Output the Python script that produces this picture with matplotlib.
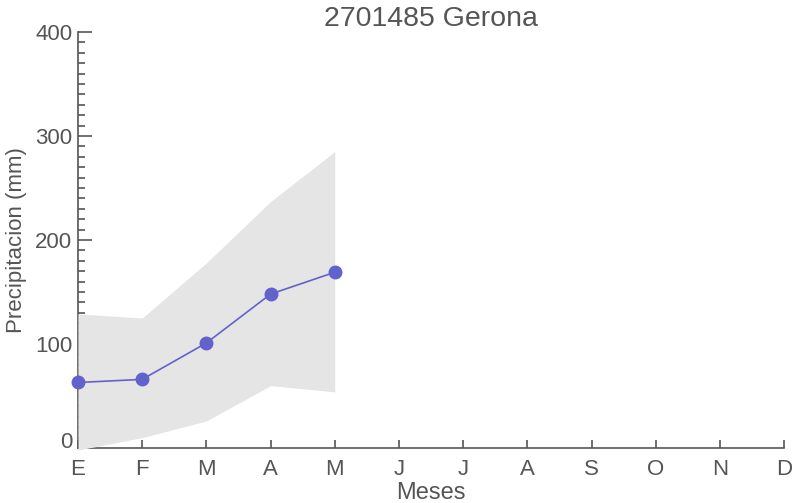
import matplotlib
matplotlib.use("Agg")
import matplotlib.pyplot as plt
from matplotlib.ticker import MultipleLocator

meses = ["E", "F", "M", "A", "M", "J", "J", "A", "S", "O", "N", "D"]
media = [63, 66, 101, 148, 169]
banda_sup = [129, 125, 178, 237, 285]
banda_inf = [-2, 10, 26, 60, 54]

texto = "#555555"
plt.rcParams["font.family"] = ["Liberation Sans", "DejaVu Sans"]

fig = plt.figure(figsize=(7.92, 5.03), dpi=100)
ax = fig.add_axes([0.0985, 0.1093, 0.8915, 0.8271])

x = list(range(len(media)))
ax.fill_between(x, banda_inf, banda_sup, color="#e5e5e5", lw=0, zorder=3, clip_on=False)
ax.plot(x, media, "-o", color="#6262cc", lw=1.2, markersize=9, zorder=4, clip_on=False)

ax.set_xlim(0, 11)
ax.set_ylim(0, 400)
ax.set_xticks(range(len(meses)))
ax.set_xticklabels(meses)
ax.yaxis.set_major_locator(MultipleLocator(100))
ax.yaxis.set_minor_locator(MultipleLocator(10))

for s in ["top", "right"]:
    ax.spines[s].set_visible(False)
for s in ["left", "bottom"]:
    ax.spines[s].set_color("#555555")
    ax.spines[s].set_linewidth(1.2)

ax.tick_params(axis="y", which="major", direction="in", length=10, width=1.2, color="#555555",
               labelsize=16, labelcolor=texto, pad=4)
ax.tick_params(axis="y", which="minor", direction="in", length=5, width=1.2, color="#555555")
ax.tick_params(axis="x", direction="in", length=6, width=1.2, color="#555555",
               labelsize=16, labelcolor=texto, pad=8)

ax.set_title("2701485 Gerona", fontsize=20.5, color=texto, pad=1)
ax.set_xlabel("Meses", fontsize=17, color=texto, labelpad=1)
ax.set_ylabel("Precipitacion (mm)", fontsize=16, color=texto, labelpad=6)

fig.canvas.draw()
for lbl in ax.get_yticklabels():
    if lbl.get_text() == "0":
        lbl.set_va("baseline")

fig.savefig("out.png", dpi=100)
